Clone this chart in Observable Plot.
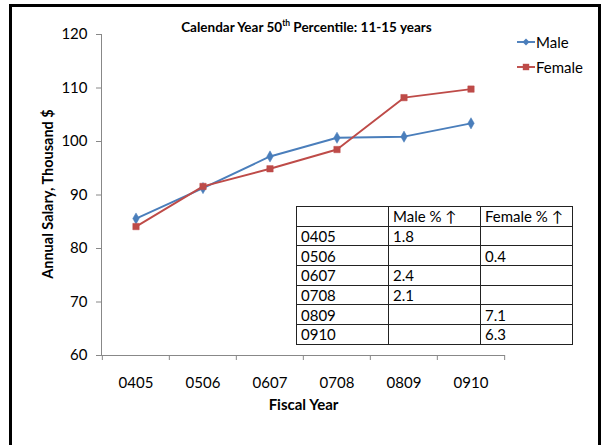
<!DOCTYPE html>
<html><head><meta charset="utf-8">
<script src="https://cdn.jsdelivr.net/npm/d3@7"></script>
<script src="https://cdn.jsdelivr.net/npm/@observablehq/plot@0.6"></script>
<style>
html,body{margin:0;padding:0;background:#fff;}
#wrap{position:relative;width:605px;height:445px;overflow:hidden;font-family:Lato,"Open Sans",sans-serif;}
#frame{position:absolute;left:9px;top:4px;width:586px;height:460px;border:3px solid #000;box-sizing:content-box;pointer-events:none;}
#title{position:absolute;left:4px;width:605px;top:18px;text-align:center;font-weight:bold;font-size:13.5px;color:#000;white-space:nowrap;}
#title sup{font-size:8.5px;}
#ylabel{position:absolute;left:47px;top:194px;transform:translate(-50%,-50%) rotate(-90deg);font-weight:bold;font-size:14.5px;white-space:nowrap;color:#000;}
#legend{position:absolute;left:517px;top:29px;font-size:15px;color:#000;}
#legend div{height:25px;display:flex;align-items:center;}
#tbl{position:absolute;left:296px;top:206px;border-collapse:collapse;font-size:15px;background:#fff;table-layout:fixed;}
#tbl td{border:1.4px solid #222;height:19.7px;padding:0 0 0 4px;line-height:18px;width:92px;box-sizing:border-box;overflow:hidden;white-space:nowrap;}
</style></head>
<body>
<div id="wrap">
  <div id="chart"></div>
  <div id="title"></div>
  <div id="ylabel">Annual Salary, Thousand $</div>
  <div id="legend"></div>
  <table id="tbl"></table>
  <div id="frame"></div>
</div>
<script>
const years = ["0405","0506","0607","0708","0809","0910"];
const male = [85.6, 91.3, 97.2, 100.7, 100.9, 103.4];
const female = [84.1, 91.6, 94.9, 98.5, 108.2, 109.8];
const yTicks = [60,70,80,90,100,110,120];
const tableHeader = ["", "Male % \u2191", "Female % \u2191"];
const malePct = ["1.8", "", "2.4", "2.1", "", ""];
const femalePct = ["", "0.4", "", "", "7.1", "6.3"];
const maleColor = "#4a7ebb", femaleColor = "#be4b48";

const data = [
  ...years.map((y,i)=>({year:y, value:male[i], series:"Male"})),
  ...years.map((y,i)=>({year:y, value:female[i], series:"Female"}))
];
const W = 605, H = 445, mL = 101, mR = 100, mT = 34, mB = 90;
const bw = (W - mL - mR) / years.length;

const chart = Plot.plot({
  width: W, height: H,
  marginLeft: mL, marginRight: mR, marginTop: mT, marginBottom: mB,
  style: {fontFamily: "Lato, 'Open Sans', sans-serif", background: "transparent", color:"#000"},
  x: {type: "band", domain: years, padding: 0, label: null},
  y: {domain: [60,120], label: null},
  marks: [
    Plot.ruleY([60], {stroke: "#888", strokeWidth: 1}),
    Plot.axisY({ticks: yTicks, tickSize: 5, tickPadding: 9, fontSize: 15, stroke: "#888", label: null}),
    Plot.ruleX(years, {x: d=>d, dx: -bw/2, y1: 60, y2: 60, insetBottom: -5, stroke: "#888"}),
    Plot.ruleX([years[years.length-1]], {x: d=>d, dx: bw/2, y1: 60, y2: 60, insetBottom: -5, stroke: "#888"}),
    Plot.axisX({tickSize: 0, tickPadding: 22, fontSize: 15, label: null}),
    Plot.text(["Fiscal Year"], {frameAnchor: "bottom", dy: 54, fontWeight: "bold", fontSize: 15, text: d=>d}),
    Plot.line(data, {x: "year", y: "value", z: "series", stroke: d=>d.series==="Male"?maleColor:femaleColor, strokeWidth: 1.9}),
    Plot.dot(data.filter(d=>d.series==="Male"), {x:"year", y:"value", symbol:"diamond", r: 3.4, fill: maleColor, stroke: maleColor, strokeWidth: 0.5}),
    Plot.dot(data.filter(d=>d.series==="Female"), {x:"year", y:"value", symbol:"square", r: 3.6, fill: femaleColor, stroke: femaleColor, strokeWidth: 0.5})
  ]
});
const svg = d3.select(chart);
svg.append("line").attr("x1", mL+0.5).attr("x2", mL+0.5).attr("y1", mT).attr("y2", H-mB).attr("stroke","#888");
document.getElementById("chart").appendChild(chart);

document.getElementById("title").innerHTML = "Calendar Year 50<sup>th</sup> Percentile: 11-15 years";

const leg = document.getElementById("legend");
[["Male", maleColor, "M-3.5 0L0 -3.5L3.5 0L0 3.5Z"], ["Female", femaleColor, "M-3.2 -3.2H3.2V3.2H-3.2Z"]].forEach(([name,c,p])=>{
  const div = document.createElement("div");
  div.innerHTML = `<svg width="18" height="10" style="margin-right:1px"><line x1="0" x2="18" y1="5" y2="5" stroke="${c}" stroke-width="1.9"/><path transform="translate(9,5)" d="${p}" fill="${c}"/></svg><span>${name}</span>`;
  leg.appendChild(div);
});

const tbl = document.getElementById("tbl");
const rows = [tableHeader, ...years.map((y,i)=>[y, malePct[i], femalePct[i]])];
rows.forEach(r=>{
  const tr = document.createElement("tr");
  r.forEach(c=>{ const td=document.createElement("td"); td.textContent=c; tr.appendChild(td); });
  tbl.appendChild(tr);
});
</script>
</body></html>
